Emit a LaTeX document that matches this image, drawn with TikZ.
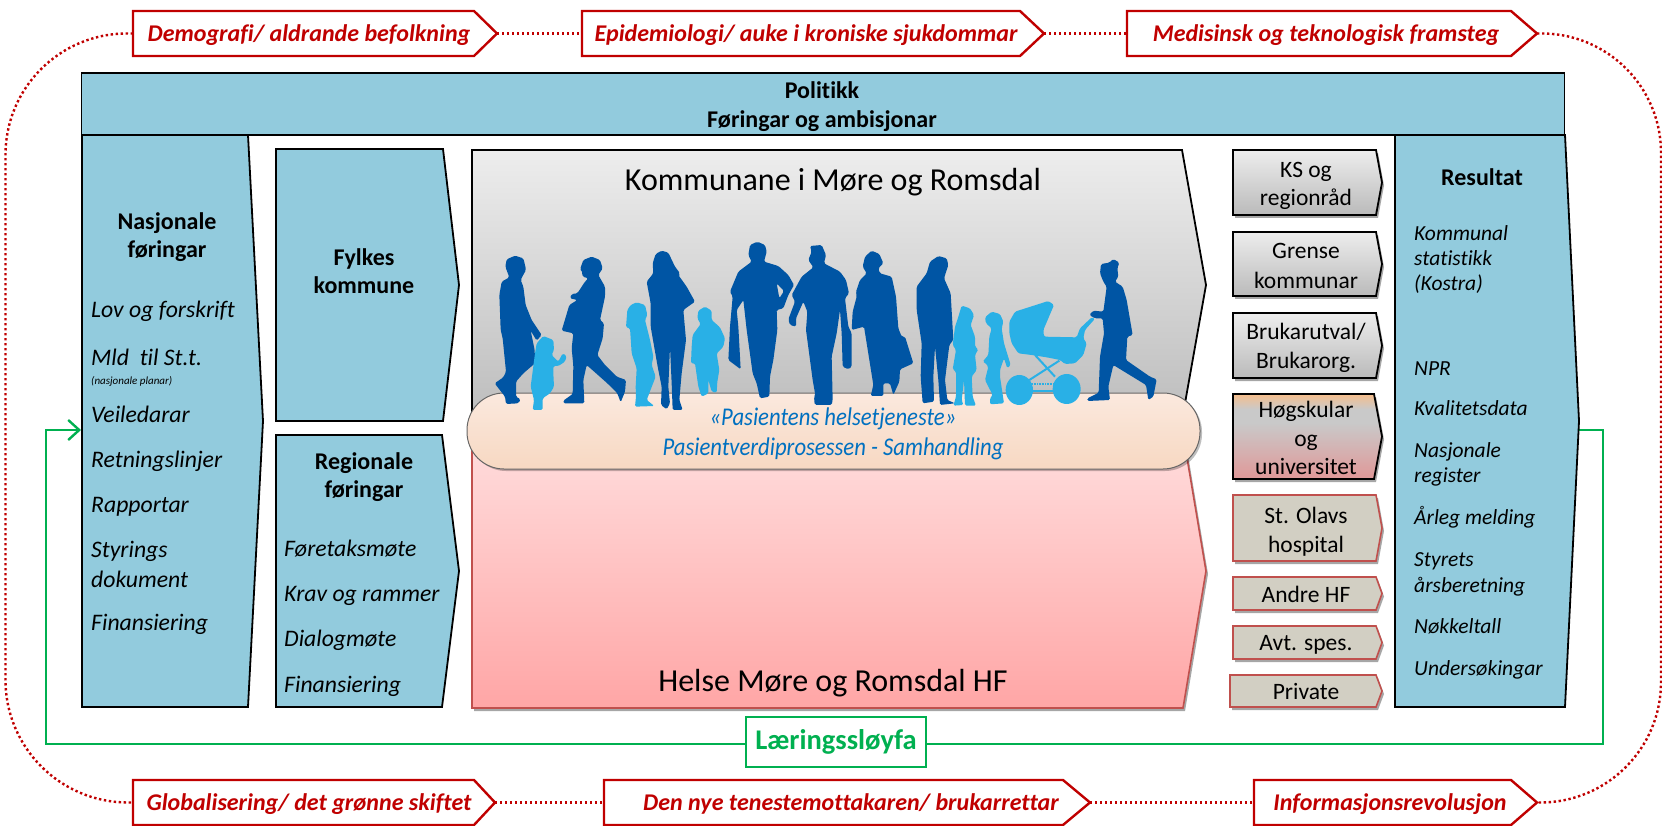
\documentclass[tikz,border=0pt]{standalone}
\usepackage{fontspec}
\setmainfont[Ligatures=NoCommon]{Carlito}
\usetikzlibrary{shadows,arrows.meta,calc}
\definecolor{panelc}{HTML}{92CBDD}
\definecolor{redc}{HTML}{C00000}
\definecolor{pinkline}{HTML}{C0504D}
\definecolor{stonec}{HTML}{D2CFC3}
\definecolor{greenc}{HTML}{00B050}
\definecolor{darkb}{HTML}{0055A4}
\definecolor{lightb}{HTML}{29B0E6}
\definecolor{bluetxt}{HTML}{0070C0}
\definecolor{hA}{HTML}{F6BE8C}
\definecolor{hB}{HTML}{C9C9C9}
\definecolor{hC}{HTML}{E09898}
\definecolor{capA}{HTML}{FBE9DE}
\definecolor{capB}{HTML}{F7D8C2}
\pgfdeclareverticalshading{hogsk}{100bp}{color(0bp)=(hC); color(25bp)=(hC); color(58bp)=(hB); color(66bp)=(hB); color(75bp)=(hA); color(100bp)=(hA)}
\newcommand\penta[7]{%
  \path[#1] (#3,#6) -- (#4,#6) -- (#5,{(#6+#7)/2}) -- (#4,#7) -- (#3,#7) -- cycle;
  \coordinate (#2-w) at (#3,{(#6+#7)/2});
  \coordinate (#2-e) at (#5,{(#6+#7)/2});
}
\tikzset{
  x=1pt,y=-1pt,
  panel/.style={draw=black,line width=1.8pt,fill=panelc,line join=miter},
  redbox/.style={draw=redc,line width=2.4pt,fill=white},
  sdw/.style={drop shadow={shadow xshift=2pt,shadow yshift=-3pt,opacity=.35,fill=black}},
  greybox/.style={draw=black,line width=1.8pt,top color=black!7,bottom color=black!27,sdw},
  stonebox/.style={draw=pinkline,line width=1.6pt,fill=stonec,sdw},
  fixh/.style={text height=.72em,text depth=.2em},
  redlabel/.style={text=redc,fixh,yshift=-6pt,font=\fontsize{24}{28}\selectfont\bfseries\itshape},
  boldt/.style={fixh,yshift=-5.2pt,font=\fontsize{24}{28}\selectfont\bfseries},
  itt/.style={fixh,anchor=west,inner sep=0pt,yshift=-6.5pt,font=\fontsize{23.7}{28}\selectfont\itshape},
  itr/.style={fixh,anchor=west,inner sep=0pt,yshift=-3.8pt,font=\fontsize{21.5}{26}\selectfont\itshape},
  regt/.style={fixh,yshift=-5.7pt,font=\fontsize{23.5}{28}\selectfont,inner sep=0pt},
  bigt/.style={fixh,yshift=-8.6pt,font=\fontsize{32}{38}\selectfont},
  capt/.style={fixh,yshift=-6pt,text=bluetxt,font=\fontsize{25.5}{30}\selectfont\itshape},
  dotline/.style={draw=redc,line width=2.4pt,dash pattern=on 2.4pt off 2.6pt},
  greenline/.style={draw=greenc,line width=2.8pt},
  dk/.style={fill=darkb,rounded corners=1.5pt},
  lt/.style={fill=lightb,rounded corners=1.5pt},
  trace/.style={x=0.33333pt,y=-0.33333pt},
}
\begin{document}
\begin{tikzpicture}
\useasboundingbox (0,0) rectangle (1662,826);
\fill[white] (0,0) rectangle (1662,826);
% coordinates of the loops
\coordinate (cTL) at (5.5,33);
\coordinate (cBL) at (5.5,802);
\coordinate (cTR) at (1661,33);
\coordinate (cBR) at (1661,802);
\coordinate (gStart) at (1578,430);
\coordinate (gEnd) at (81,430);
\coordinate (gR) at (1603,744);
\coordinate (gL) at (46,744);
% outer labels
\penta{redbox}{la}{133}{474}{497}{11}{56}
\penta{redbox}{lb}{582}{1020}{1044}{11}{56}
\penta{redbox}{lc}{1127}{1511}{1537}{11}{56}
\penta{redbox}{ld}{133}{474}{495}{780}{825}
\penta{redbox}{le}{604}{1063}{1090}{780}{825}
\penta{redbox}{lf}{1254}{1511}{1537}{780}{825}
\draw[dotline,rounded corners=122pt] (la-w) -- (cTL) -- (cBL) -- (ld-w);
\draw[dotline,rounded corners=120pt] (lc-e) -- (cTR) -- (cBR) -- (lf-e);
\draw[dotline] (la-e) -- (lb-w);
\draw[dotline] (lb-e) -- (lc-w);
\draw[dotline] (ld-e) -- (le-w);
\draw[dotline] (le-e) -- (lf-w);
\node[redlabel] (ta) at (309,33) {Demografi/ aldrande befolkning};
\node[redlabel] (tb) at (806,33) {Epidemiologi/ auke i kroniske sjukdommar};
\node[redlabel] (tc) at (1326,33) {Medisinsk og teknologisk framsteg};
\node[redlabel] (td) at (309,802) {Globalisering/ det grønne skiftet};
\node[redlabel] (te) at (851,802) {Den nye tenestemottakaren/ brukarrettar};
\node[redlabel] (tf) at (1390,802) {Informasjonsrevolusjon};
% green loop
\node[draw=greenc,line width=2.8pt,fill=white,minimum width=180pt,minimum height=50pt,inner sep=0pt,text=greenc,font=\fontsize{28.5}{34}\selectfont\bfseries] (laer) at (836,742) {Læringssløyfa};
\draw[greenline] (gStart) -| (gR) -- (gR -| laer.east);
\draw[greenline,-{Straight Barb[length=11pt,width=20pt,line width=2.4pt]}] (gL -| laer.west) -- (gL) |- (gEnd);
% political bar
\node[panel,minimum width=1483pt,minimum height=62pt,inner sep=0pt] (bar) at (823,104) {};
\node[boldt] (t1) at (822,91) {Politikk};
\node[boldt] (t2) at (822,120) {Føringar og ambisjonar};
% left panels
\penta{panel}{nf}{82}{248}{263}{135}{707}
\penta{panel}{fk}{276}{443}{459}{149}{421}
\penta{panel}{rf}{276}{442}{459}{435}{707}
\penta{panel}{rs}{1395}{1565}{1579}{135}{707}
\node[boldt] (n1) at (167,222) {Nasjonale};
\node[boldt] (n2) at (167,250) {føringar};
\node[itt] (n3) at (91,308) {Lov og forskrift};
\node[itt] (n4) at (91,356) {Mld\ \ til St.t.};
\node[itt,font=\fontsize{11}{13}\selectfont\itshape] (n5) at (91,375) {(nasjonale planar)};
\node[itt] (n6) at (91,413) {Veiledarar};
\node[itt] (n7) at (91,458) {Retningslinjer};
\node[itt] (n8) at (91,503) {Rapportar};
\node[itt] (n9) at (91,548) {Styrings};
\node[itt] (n10) at (91,578) {dokument};
\node[itt] (n11) at (91,621) {Finansiering};
\node[boldt] (f1) at (364,258) {Fylkes};
\node[boldt] (f2) at (364,286) {kommune};
\node[boldt] (r1) at (364,462) {Regionale};
\node[boldt] (r2) at (364,490) {føringar};
\node[itt] (r3) at (284,547) {Føretaksmøte};
\node[itt] (r4) at (284,592) {Krav og rammer};
\node[itt] (r5) at (284,637) {Dialogmøte};
\node[itt] (r6) at (284,683) {Finansiering};
% result panel texts
\node[boldt] (s0) at (1482,178) {Resultat};
\node[itr] (s1) at (1414,234) {Kommunal};
\node[itr] (s2) at (1414,259) {statistikk};
\node[itr] (s3) at (1414,284) {(Kostra)};
\node[itr] (s4) at (1414,369) {NPR};
\node[itr] (s5) at (1414,409) {Kvalitetsdata};
\node[itr] (s6) at (1414,451) {Nasjonale};
\node[itr] (s7) at (1414,476) {register};
\node[itr] (s8) at (1414,518) {Årleg melding};
\node[itr] (s9) at (1414,560) {Styrets};
\node[itr] (s10) at (1414,586) {årsberetning};
\node[itr] (s11) at (1414,627) {Nøkkeltall};
\node[itr] (s12) at (1414,669) {Undersøkingar};
% central boxes
\penta{draw=black,line width=1.8pt,top color=black!7,bottom color=black!26}{km}{472}{1182}{1206}{150}{420}
\penta{draw=pinkline,line width=1.6pt,top color=red!13,bottom color=red!35,sdw}{hm}{472}{1183}{1206}{434}{708}
\path[draw=black!60,line width=1pt,top color=capA,bottom color=capB,rounded corners=37pt,drop shadow={shadow xshift=2pt,shadow yshift=-2pt,opacity=.25,fill=black}] (467,393) rectangle (1200,469);
% right boxes
\penta{greybox}{b1}{1233}{1376}{1382}{150}{215}
\penta{greybox}{b2}{1233}{1376}{1382}{232}{296}
\penta{greybox}{b3}{1233}{1376}{1382}{313}{378}
\penta{draw=black,line width=1.8pt,shading=hogsk,sdw}{b4}{1233}{1374}{1382}{394}{479}
\penta{stonebox}{b5}{1233}{1376}{1382}{495}{561}
\penta{stonebox}{b6}{1233}{1376}{1382}{577}{610}
\penta{stonebox}{b7}{1233}{1376}{1382}{626}{659}
\penta{stonebox}{b8}{1230}{1376}{1382}{675}{707}
\node[regt] (u1) at (1306,169) {KS og};
\node[regt] (u2) at (1306,197) {regionråd};
\node[regt] (u3) at (1306,250) {Grense};
\node[regt] (u4) at (1306,280) {kommunar};
\node[regt] (u5) at (1306,331) {Brukarutval/};
\node[regt] (u6) at (1306,360) {Brukarorg.};
\node[regt] (u7) at (1306,409) {Høgskular};
\node[regt] (u8) at (1306,438) {og};
\node[regt] (u9) at (1306,466) {universitet};
\node[regt] (u10) at (1306,515) {St. Olavs};
\node[regt] (u11) at (1306,544) {hospital};
\node[regt] (u12) at (1306,594) {Andre HF};
\node[regt] (u13) at (1306,642) {Avt. spes.};
\node[regt] (u14) at (1306,691) {Private};
% silhouettes
\begin{scope}[shift={(490,240)},trace]
 \path[dk] (75,47)--(100,55)--(105,75)--(108,90)--(98,108)--(92,120)--(100,140)--(107,195)--(125,240)--(155,285)--(140,302)--(122,272)--(134,330)--(135,370)--(100,400)--(78,425)--(78,470)--(92,478)--(85,490)--(48,492)--(45,470)--(14,430)--(40,412)--(48,395)--(38,295)--(32,270)--(28,165)--(35,125)--(58,112)--(46,80)--(50,58)--cycle;
 \path[dk] (305,50)--(330,60)--(338,85)--(325,105)--(345,140)--(345,170)--(330,240)--(342,250)--(338,295)--(322,345)--(345,375)--(380,410)--(408,420)--(405,455)--(392,487)--(382,460)--(352,430)--(290,375)--(280,420)--(283,490)--(220,490)--(220,482)--(248,462)--(250,378)--(245,325)--(250,280)--(215,272)--(238,195)--(262,180)--(240,175)--(245,162)--(262,160)--(285,125)--(295,115)--(278,110)--(275,90)--(270,88)--(280,60)--cycle;
 \path[dk] (515,32)--(535,38)--(555,80)--(570,100)--(565,105)--(590,140)--(615,185)--(580,210)--(588,300)--(575,400)--(568,480)--(578,510)--(548,510)--(545,430)--(540,320)--(535,440)--(540,490)--(530,508)--(513,495)--(515,440)--(503,380)--(482,260)--(482,190)--(470,125)--(490,100)--(488,70)--(497,42)--cycle;
 \path[lt] (440,187)--(465,195)--(472,225)--(465,240)--(480,300)--(490,350)--(485,375)--(497,410)--(470,480)--(493,498)--(435,500)--(438,470)--(437,440)--(440,385)--(425,340)--(420,265)--(408,262)--(412,210)--(422,195)--cycle;
 \path[lt] (645,200)--(665,212)--(665,240)--(690,262)--(705,295)--(700,320)--(680,340)--(688,390)--(682,425)--(680,458)--(665,455)--(655,420)--(655,460)--(635,470)--(625,440)--(615,370)--(603,370)--(605,320)--(608,285)--(632,252)--(622,235)--(625,212)--cycle;
 \path[lt] (160,288)--(190,300)--(192,330)--(185,345)--(205,365)--(218,340)--(230,348)--(225,365)--(205,378)--(190,378)--(190,400)--(192,440)--(180,460)--(158,475)--(158,510)--(128,510)--(132,480)--(122,440)--(135,340)--(140,310)--cycle;
\end{scope}
\begin{scope}[shift={(720,230)},trace]
 \path[dk,even odd rule] (112,35)--(135,45)--(140,65)--(132,95)--(175,108)--(205,135)--(222,165)--(205,195)--(190,235)--(170,240)--(172,300)--(160,390)--(150,440)--(148,500)--(120,505)--(110,460)--(98,430)--(80,300)--(70,210)--(50,240)--(55,290)--(62,418)--(25,390)--(30,290)--(38,200)--(30,185)--(55,125)--(95,95)--(85,75)--(90,45)--cycle (170,160)--(192,183)--(178,205)--cycle;
 \path[dk] (270,48)--(305,45)--(318,75)--(312,100)--(360,125)--(378,150)--(387,190)--(375,205)--(385,290)--(395,310)--(395,410)--(385,418)--(368,410)--(365,310)--(360,240)--(350,310)--(335,380)--(338,510)--(335,525)--(285,525)--(282,510)--(285,490)--(278,450)--(258,300)--(262,245)--(250,215)--(228,265)--(228,290)--(210,285)--(205,268)--(225,215)--(215,195)--(245,140)--(280,112)--(265,90)--(275,65)--cycle;
 \path[dk] (455,62)--(478,72)--(490,100)--(475,115)--(480,130)--(515,140)--(528,200)--(535,295)--(545,320)--(555,320)--(580,400)--(540,418)--(538,455)--(520,495)--(510,460)--(490,460)--(490,498)--(452,498)--(460,465)--(440,340)--(432,290)--(395,300)--(398,245)--(410,200)--(408,185)--(420,150)--(440,130)--(428,110)--(435,80)--cycle;
 \path[dk] (655,78)--(680,85)--(685,105)--(672,145)--(692,190)--(700,330)--(688,345)--(675,450)--(682,510)--(705,520)--(660,525)--(655,450)--(645,350)--(640,440)--(642,515)--(608,520)--(602,440)--(605,340)--(590,240)--(590,170)--(620,130)--(630,95)--cycle;
\end{scope}
\begin{scope}[shift={(900,240)},trace]
 \path[lt] (185,197)--(210,205)--(222,225)--(212,255)--(225,290)--(225,320)--(235,328)--(225,345)--(230,390)--(215,410)--(218,470)--(228,497)--(195,497)--(192,420)--(185,480)--(190,495)--(160,497)--(168,470)--(168,395)--(158,388)--(168,330)--(158,315)--(165,260)--(172,240)--cycle;
 \path[lt] (275,215)--(300,222)--(310,245)--(305,265)--(312,310)--(332,375)--(322,385)--(312,355)--(300,390)--(300,410)--(312,490)--(270,493)--(270,475)--(278,465)--(255,420)--(265,380)--(255,368)--(248,365)--(265,345)--(268,290)--(275,265)--(258,250)--(255,232)--cycle;
 \path[lt] (328,245)--(345,215)--(445,183)--(462,195)--(430,270)--(432,290)--(530,292)--(540,265)--(575,232)--(585,236)--(555,270)--(550,295)--(560,310)--(550,345)--(525,370)--(495,372)--(480,360)--(440,352)--(395,345)--(355,340)--(335,310)--(328,280)--cycle;
 \draw[lightb,line width=2pt] (405,345)--(465,410);
 \draw[lightb,line width=2pt] (478,362)--(388,420);
 \draw[lightb,line width=1.5pt,dash pattern=on .8pt off .8pt] (392,432)--(462,432);
 \draw[lightb,line width=1.8pt] (385,452)--(480,452);
 \fill[lightb] (358,450) ellipse [x radius=41,y radius=45];
 \fill[lightb] (500,447) ellipse [x radius=42,y radius=45];
 \path[dk] (628,68)--(640,57)--(658,68)--(652,85)--(655,110)--(645,125)--(668,140)--(680,180)--(698,285)--(682,290)--(678,360)--(750,410)--(770,418)--(760,470)--(745,480)--(738,435)--(640,375)--(625,440)--(630,480)--(562,483)--(562,475)--(596,458)--(600,350)--(612,280)--(608,235)--(585,235)--(568,225)--(580,212)--(610,215)--(620,140)--(610,125)--(600,100)--(603,72)--cycle;
\end{scope}
% texts in the centre
\node[bigt] (k1) at (833,179) {Kommunane i Møre og Romsdal};
\node[bigt] (k2) at (833,680) {Helse Møre og Romsdal HF};
\node[capt] (c1) at (833,417) {\scalebox{.89}[1]{«Pasientens helsetjeneste»}};
\node[capt] (c2) at (833,447) {\scalebox{.89}[1]{Pasientverdiprosessen - Samhandling}};
\end{tikzpicture}
\end{document}
